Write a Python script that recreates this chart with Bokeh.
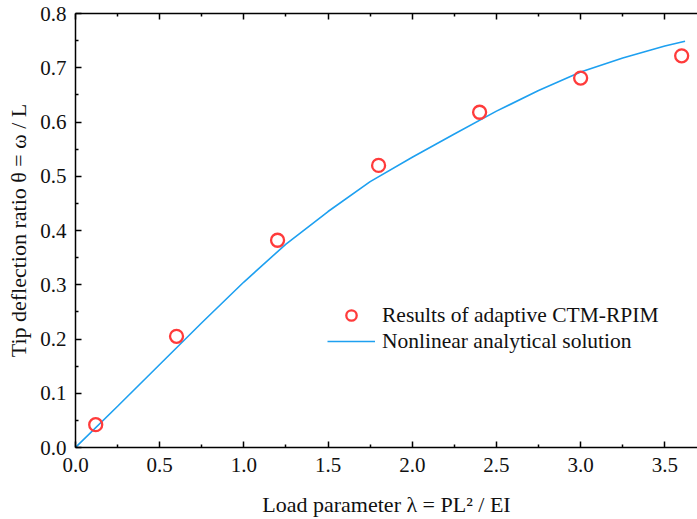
from bokeh.plotting import figure
from bokeh.models import (LinearAxis, Range1d, Legend, LegendItem, ColumnDataSource,
                          FixedTicker, NumeralTickFormatter)
from bokeh.embed import file_html
from bokeh.resources import INLINE

# Data
lam_pts = [0.12, 0.6, 1.2, 1.8, 2.4, 3.0, 3.6]
theta_pts = [0.042, 0.205, 0.382, 0.520, 0.618, 0.681, 0.722]

lam_curve = [0.0, 0.25, 0.5, 0.75, 1.0, 1.25, 1.5, 1.75, 2.0, 2.25, 2.5, 2.75, 3.0, 3.25, 3.5, 3.62]
theta_curve = [0.0, 0.076, 0.153, 0.230, 0.305, 0.375, 0.435, 0.490, 0.535, 0.578, 0.620, 0.658, 0.692, 0.718, 0.740, 0.749]

x_ticks = [0.0, 0.5, 1.0, 1.5, 2.0, 2.5, 3.0, 3.5]
x_minor = [0.25, 0.75, 1.25, 1.75, 2.25, 2.75, 3.25]
y_ticks = [0.0, 0.1, 0.2, 0.3, 0.4, 0.5, 0.6, 0.7, 0.8]
y_minor = [0.05, 0.15, 0.25, 0.35, 0.45, 0.55, 0.65, 0.75]

FONT = "Liberation Serif"

p = figure(width=697, height=519, output_backend="svg", toolbar_location=None,
           x_range=Range1d(0, 3.694), y_range=Range1d(0, 0.8),
           x_axis_location=None, y_axis_location=None,
           min_border_left=75, min_border_right=0, min_border_top=13, min_border_bottom=71)
p.grid.visible = False
p.outline_line_color = None
p.background_fill_color = "white"
p.border_fill_color = "white"

def style_axis(ax):
    ax.axis_line_color = "black"
    ax.axis_line_width = 1.5
    ax.major_tick_line_color = "black"
    ax.major_tick_line_width = 1.5
    ax.minor_tick_line_color = "black"
    ax.minor_tick_line_width = 1.5
    ax.major_tick_in = 6
    ax.major_tick_out = 0
    ax.minor_tick_in = 3
    ax.minor_tick_out = 0
    ax.major_label_text_font = FONT
    ax.major_label_text_font_size = "21px"
    ax.major_label_text_color = "#111111"
    ax.axis_label_text_font = FONT
    ax.axis_label_text_font_size = "22px"
    ax.axis_label_text_font_style = "normal"
    ax.axis_label_text_color = "#111111"

xb = LinearAxis(axis_label="Load parameter λ = PL² / EI")
style_axis(xb)
xb.ticker = FixedTicker(ticks=x_ticks, minor_ticks=x_minor)
xb.formatter = NumeralTickFormatter(format="0.0")
xb.major_label_standoff = 10
xb.axis_label_standoff = 17
p.add_layout(xb, "below")

yl = LinearAxis(axis_label="Tip deflection ratio θ = ω / L")
style_axis(yl)
yl.ticker = FixedTicker(ticks=y_ticks, minor_ticks=y_minor)
yl.formatter = NumeralTickFormatter(format="0.0")
yl.major_label_standoff = 9
yl.axis_label_standoff = 6
p.add_layout(yl, "left")

xt = LinearAxis()
style_axis(xt)
xt.ticker = FixedTicker(ticks=x_ticks, minor_ticks=x_minor)
xt.major_label_overrides = {t: "" for t in x_ticks}
xt.major_label_standoff = 0
p.add_layout(xt, "above")

src_c = ColumnDataSource(dict(x=lam_curve, y=theta_curve))
src_p = ColumnDataSource(dict(x=lam_pts, y=theta_pts))

r_line = p.line("x", "y", source=src_c, line_color="#1ea0f0", line_width=1.6)
r_pts = p.scatter("x", "y", source=src_p, marker="circle", size=13,
                  line_color="#ff3b3b", line_width=2.3, fill_color=None)

legend = Legend(items=[LegendItem(label="Results of adaptive CTM-RPIM", renderers=[r_pts]),
                       LegendItem(label="Nonlinear analytical solution", renderers=[r_line])],
                location=(252, 93), padding=0, margin=0, spacing=0,
                glyph_width=48, glyph_height=26, label_height=26, label_standoff=7,
                label_text_font=FONT, label_text_font_size="21.5px", label_text_color="#111111",
                background_fill_alpha=0, border_line_color=None)
p.add_layout(legend, "center")

open("out.html", "w").write(file_html(p, INLINE))
